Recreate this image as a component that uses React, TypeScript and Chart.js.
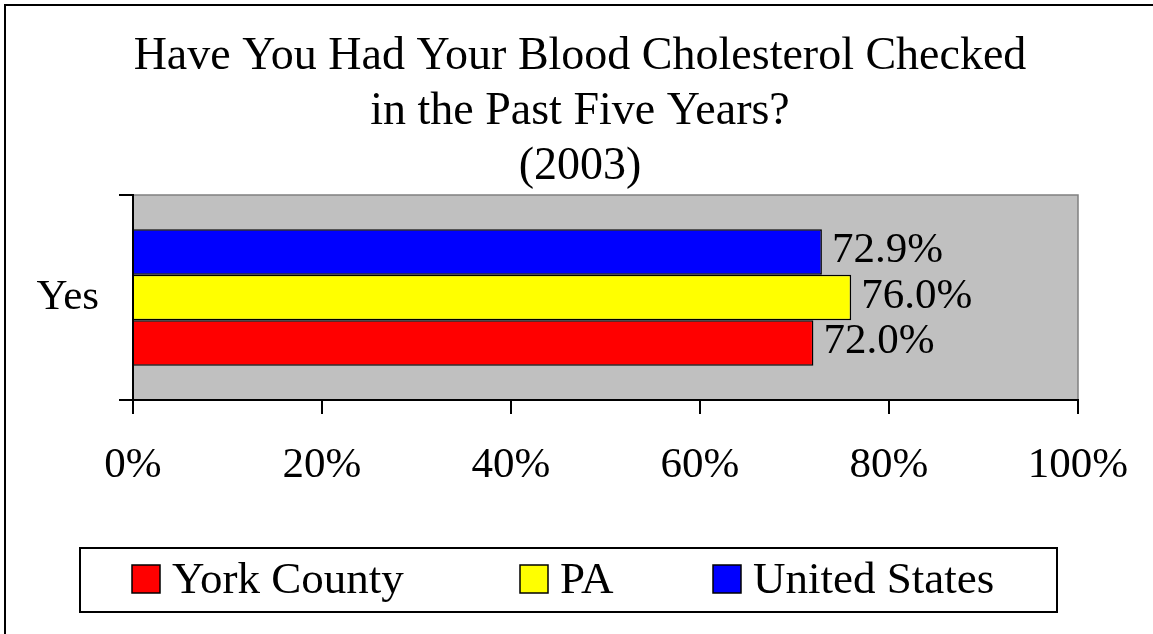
import React, { useEffect, useRef } from "react";
import { Chart, registerables } from "chart.js";

Chart.register(...registerables);

const CATEGORIES = ["Yes"];
const SERIES_NAMES = ["United States", "PA", "York County"];
const US_VALUES = [72.9];
const PA_VALUES = [76.0];
const YORK_VALUES = [72.0];
const SERIES_COLORS = ["#0000FF", "#FFFF00", "#FF0000"];
const X_MIN = 0;
const X_MAX = 100;
const X_STEP = 20;
const TITLE_LINES = [
  "Have You Had Your Blood Cholesterol Checked",
  "in the Past Five Years?",
  "(2003)",
];

const FONT = "'Liberation Serif', 'Times New Roman', serif";

const W = 1153;
const H = 634;

const backgroundPlugin = {
  id: "plotBackground",
  beforeDraw(chart: any) {
    const { ctx, chartArea } = chart;
    ctx.save();
    ctx.fillStyle = "#ffffff";
    ctx.fillRect(0, 0, chart.width, chart.height);
    // outer frame (only left & top edges are visible)
    ctx.strokeStyle = "#000000";
    ctx.lineWidth = 2;
    ctx.beginPath();
    ctx.moveTo(5, chart.height + 5);
    ctx.lineTo(5, 5);
    ctx.lineTo(chart.width + 5, 5);
    ctx.stroke();
    // plot area
    ctx.fillStyle = "#C0C0C0";
    ctx.fillRect(chartArea.left, chartArea.top, chartArea.right - chartArea.left, chartArea.bottom - chartArea.top);
    ctx.strokeStyle = "#808080";
    ctx.lineWidth = 1.5;
    ctx.beginPath();
    ctx.moveTo(chartArea.left, chartArea.top);
    ctx.lineTo(chartArea.right, chartArea.top);
    ctx.lineTo(chartArea.right, chartArea.bottom);
    ctx.stroke();
    ctx.restore();
  },
};

const dataLabelPlugin = {
  id: "dataLabels",
  afterDatasetsDraw(chart: any) {
    const { ctx } = chart;
    ctx.save();
    ctx.font = `43px ${FONT}`;
    ctx.fillStyle = "#000000";
    ctx.textAlign = "left";
    ctx.textBaseline = "middle";
    chart.data.datasets.forEach((ds: any, di: number) => {
      const meta = chart.getDatasetMeta(di);
      meta.data.forEach((bar: any, i: number) => {
        const v = ds.data[i];
        ctx.fillText(v.toFixed(1) + "%", bar.x + 10, bar.y - 1);
      });
    });
    ctx.restore();
  },
};

const legendPlugin = {
  id: "boxLegend",
  afterDraw(chart: any) {
    const { ctx } = chart;
    const boxX = 80, boxY = 548, boxW = 977, boxH = 64;
    ctx.save();
    ctx.strokeStyle = "#000000";
    ctx.lineWidth = 2;
    ctx.strokeRect(boxX, boxY, boxW, boxH);
    const columns = [132, 520, 713];
    const items = chart.data.datasets.slice().reverse();
    ctx.font = `45px ${FONT}`;
    ctx.textAlign = "left";
    ctx.textBaseline = "alphabetic";
    items.forEach((ds: any, i: number) => {
      const x = columns[i];
      ctx.fillStyle = ds.backgroundColor;
      ctx.fillRect(x, 565, 28, 28);
      ctx.strokeStyle = "#000000";
      ctx.lineWidth = 1.5;
      ctx.strokeRect(x, 565, 28, 28);
      ctx.fillStyle = "#000000";
      ctx.fillText(ds.label, x + 40, 593);
    });
    ctx.restore();
  },
};

export default function App() {
  const canvasRef = useRef<HTMLCanvasElement | null>(null);

  useEffect(() => {
    if (!canvasRef.current) return;
    const values = [US_VALUES, PA_VALUES, YORK_VALUES];
    const chart = new Chart(canvasRef.current, {
      type: "bar",
      data: {
        labels: CATEGORIES,
        datasets: SERIES_NAMES.map((name, i) => ({
          label: name,
          data: values[i],
          backgroundColor: SERIES_COLORS[i],
          borderColor: "#000000",
          borderWidth: 1.5,
          categoryPercentage: 0.667,
          barPercentage: 1.0,
        })),
      },
      options: {
        indexAxis: "y",
        responsive: false,
        animation: false,
        devicePixelRatio: 1,
        events: [],
        layout: { padding: { left: 7, right: 0, top: 0, bottom: 0 } },
        plugins: {
          legend: { display: false },
          tooltip: { enabled: false },
          title: {
            display: true,
            text: TITLE_LINES,
            color: "#000000",
            font: { family: FONT, size: 46, weight: "normal", lineHeight: 55 / 46 },
            padding: { top: 29, bottom: 1 },
          },
        },
        scales: {
          x: {
            type: "linear",
            min: X_MIN,
            max: X_MAX,
            afterFit: (scale: any) => {
              scale.height = 234;
              scale.paddingLeft = 0;
              scale.paddingRight = 75;
            },
            ticks: {
              stepSize: X_STEP,
              color: "#000000",
              font: { family: FONT, size: 43, lineHeight: 1 },
              padding: 30,
              maxRotation: 0,
              autoSkip: false,
              callback: (v: any) => `${v}%`,
            },
            grid: {
              drawOnChartArea: false,
              drawTicks: true,
              tickLength: 14,
              color: "#000000",
              lineWidth: 2,
            },
            border: { display: true, color: "#000000", width: 2 },
          },
          y: {
            type: "category",
            afterFit: (scale: any) => {
              scale.width = 126;
            },
            ticks: {
              color: "#000000",
              font: { family: FONT, size: 43 },
              padding: 20,
            },
            grid: {
              offset: true,
              drawOnChartArea: false,
              drawTicks: true,
              tickLength: 14,
              color: "#000000",
              lineWidth: 2,
            },
            border: { display: true, color: "#000000", width: 2 },
          },
        },
      },
      plugins: [backgroundPlugin, dataLabelPlugin, legendPlugin],
    } as any);
    return () => chart.destroy();
  }, []);

  return (
    <div style={{ position: "absolute", left: 0, top: 0, width: W, height: H, background: "#fff" }}>
      <canvas ref={canvasRef} width={W} height={H} style={{ display: "block", width: W, height: H }} />
    </div>
  );
}
